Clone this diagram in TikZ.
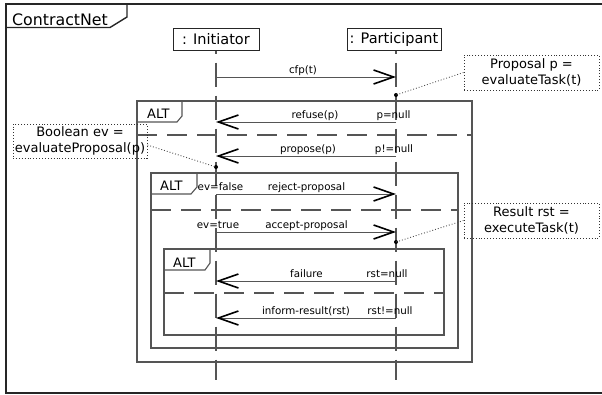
\documentclass[tikz,border=0pt]{standalone}
\usepackage{fontspec}
\setmainfont{DejaVu Sans}
\usetikzlibrary{arrows.meta}
\definecolor{ln}{RGB}{85,85,85}
\begin{document}
\begin{tikzpicture}[x=1pt,y=-1pt,
  outer/.style={draw=black!85,line width=1.4pt},
  frame/.style={draw=ln,line width=1.1pt},
  lifeline/.style={draw=ln,line width=1.2pt,dash pattern=on 24pt off 9pt,dash phase=21pt},
  sep/.style={draw=ln,line width=1.1pt,dash pattern=on 20pt off 10pt},
  msg/.style={draw=ln,line width=1pt,-{Straight Barb[length=20pt,width=14pt,line width=1.6pt,color=black]}},
  lbl/.style={font=\fontsize{10.3}{12}\selectfont,inner sep=0pt,anchor=base},
  head/.style={draw=black!85,line width=1pt,font=\fontsize{14.5}{16}\selectfont,inner sep=0pt},
  note/.style={draw=black!80,dotted,line width=0.9pt,align=center,font=\fontsize{13}{16.5}\selectfont,inner sep=0pt},
  tabtext/.style={font=\fontsize{13}{14}\selectfont,inner sep=0pt,anchor=base west},
  link/.style={draw=black!70,dotted,line width=0.9pt},
  dot/.style={circle,fill=black,inner sep=0pt,minimum size=4pt}]
\useasboundingbox (0,0) rectangle (602,394);

% outer frame
\draw[outer] (606,4) -- (6,4) -- (6,393) -- (606,393);
\draw[outer] (6,27.5) -- (110,27.5) -- (127,17) -- (127,4);
\node[font=\fontsize{15.8}{18}\selectfont,inner sep=0pt,anchor=base west] (title) at (12,25) {ContractNet};

% heads
\node[head,minimum width=86pt,minimum height=22pt] (ini) at (216,39) {: Initiator};
\node[head,minimum width=94pt,minimum height=22pt] (par) at (394,39) {: Participant};
\coordinate (iend) at (216,380);
\coordinate (pend) at (396,380);
\draw[lifeline] (ini.south) -- (iend);
\draw[lifeline] (pend |- par.south) -- (pend);

% message end points
\foreach \n/\y in {cfp/77,ref/122,pro/156,rej/194,acc/232,fai/281,inf/318}{
  \coordinate (i-\n) at (216,\y);
  \coordinate (p-\n) at (396,\y);
}

% ALT frames
\draw[frame] (137,101) rectangle (472,362);
\draw[frame] (137,122) -- (177,122) -- (182,116) -- (182,101);
\node[tabtext] (alt1) at (147,118) {ALT};
\coordinate (s1a) at (137,135); \coordinate (s1b) at (472,135);
\draw[sep] (s1a) -- (s1b);

\draw[frame] (151,173) rectangle (458,348);
\draw[frame] (151,194) -- (191,194) -- (197,187) -- (197,173);
\node[tabtext] (alt2) at (160,190.5) {ALT};
\coordinate (s2a) at (151,210); \coordinate (s2b) at (458,210);
\draw[sep] (s2a) -- (s2b);

\draw[frame] (164,249) rectangle (444,335);
\draw[frame] (164,270) -- (205,270) -- (210,263) -- (210,249);
\node[tabtext] (alt3) at (173,267) {ALT};
\coordinate (s3a) at (164,293); \coordinate (s3b) at (444,293);
\draw[sep] (s3a) -- (s3b);

% messages
\draw[msg] (i-cfp) -- (p-cfp);
\node[lbl] (l-cfp) at (303,73.5) {cfp(t)};

\draw[msg] (p-ref) -- (i-ref);
\node[lbl] (l-ref) at (315,118.5) {refuse(p)};
\node[lbl] (g-ref) at (393.5,118.5) {p=null};

\draw[msg] (p-pro) -- (i-pro);
\node[lbl] (l-pro) at (308,152.5) {propose(p)};
\node[lbl] (g-pro) at (394,152.5) {p!=null};

\draw[msg] (i-rej) -- (p-rej);
\node[lbl] (l-rej) at (306.5,190.5) {reject-proposal};
\node[lbl] (g-rej) at (220.5,190.5) {ev=false};

\draw[msg] (i-acc) -- (p-acc);
\node[lbl] (l-acc) at (306.5,228.5) {accept-proposal};
\node[lbl] (g-acc) at (218,228.5) {ev=true};

\draw[msg] (p-fai) -- (i-fai);
\node[lbl] (l-fai) at (306.5,277.5) {failure};
\node[lbl] (g-fai) at (387,277.5) {rst=null};

\draw[msg] (p-inf) -- (i-inf);
\node[lbl] (l-inf) at (306,314.5) {inform-result(rst)};
\node[lbl] (g-inf) at (390,314.5) {rst!=null};

% notes
\node[note,minimum width=135pt,minimum height=35pt] (pnote) at (531.5,72.5) {Proposal p =\\evaluateTask(t)};
\node[note,minimum width=135pt,minimum height=35pt] (rnote) at (531.5,220.5) {Result rst =\\executeTask(t)};
\node[note,minimum width=134pt,minimum height=34pt] (bnote) at (80,141) {Boolean ev =\\evaluateProposal(p)};

\node[dot] (d1) at (396,95) {};
\node[dot] (d2) at (216,167) {};
\node[dot] (d3) at (396,242) {};
\draw[link] (pnote.west) -- (d1.center);
\draw[link] ([yshift=-4pt]bnote.east) -- (d2.center);
\draw[link] (rnote.west) -- (d3.center);
\end{tikzpicture}
\end{document}
